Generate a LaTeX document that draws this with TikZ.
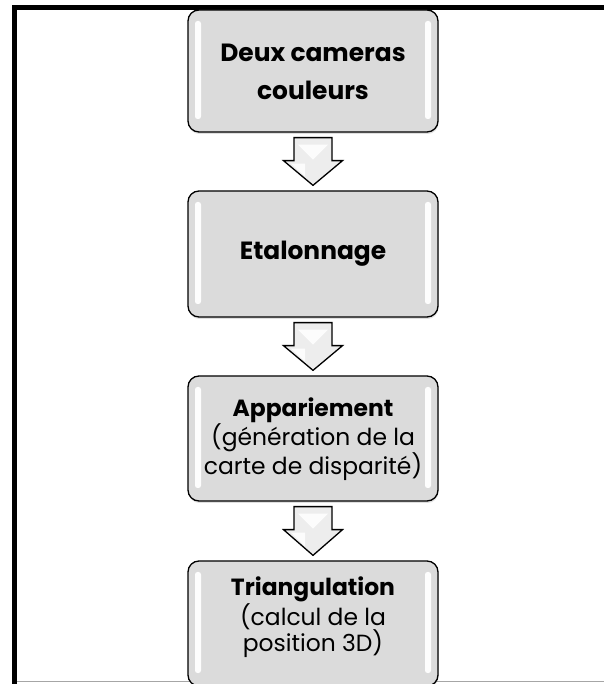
\documentclass[tikz,border=0pt]{standalone}
\usepackage{fontspec}
\setmainfont{Poppins}
\usetikzlibrary{calc,shadows}

\tikzset{
  x=1bp, y=1bp,
  stagebox/.style={
    draw=black, line width=1.3bp, rounded corners=11bp,
    fill=gray!28, minimum width=250bp, minimum height=#1,
    inner sep=0pt,
    drop shadow={shadow xshift=0.5bp, shadow yshift=-2bp, opacity=0.25},
    path picture={
      \fill[white, rounded corners=2.5bp, opacity=0.95]
        ($(path picture bounding box.north west)+(7bp,-11bp)$) rectangle
        ($(path picture bounding box.south west)+(13bp,13bp)$);
      \fill[white, rounded corners=2.5bp, opacity=0.95]
        ($(path picture bounding box.north east)+(-13bp,-11bp)$) rectangle
        ($(path picture bounding box.south east)+(-7bp,13bp)$);
    }
  },
  stagetext/.style={align=center, inner sep=0pt, text=black},
  flowarrow/.style={draw=black, line width=1.3bp, line join=miter, fill=gray!14},
  arrowgloss/.style={fill=white, opacity=0.85},
  frameline/.style={line width=5bp, line join=miter, black},
}

% Block arrow pointing down from the bottom of one box to the top of the next
\newcommand\blockarrow[2]{%
  \path let \p1=(#1.south), \p2=(#2.north) in
    [flowarrow] (\x1-19bp,\y1-5bp) -- (\x1+19bp,\y1-5bp) -- (\x1+19bp,\y1-28bp)
      -- (\x1+29.5bp,\y1-28bp) -- (\x1,\y2+5bp) -- (\x1-29.5bp,\y1-28bp)
      -- (\x1-19bp,\y1-28bp) -- cycle;
  \path let \p1=(#1.south), \p2=(#2.north) in
    [arrowgloss] (\x1-15bp,\y1-12bp) -- (\x1+15bp,\y1-12bp) -- (\x1,\y1-27bp) -- cycle
    (\x1-22bp,\y1-31bp) -- (\x1-8bp,\y1-31bp) -- (\x1-8bp,\y2+14bp) -- cycle;%
}

\begin{document}
\begin{tikzpicture}
\useasboundingbox (0,0) rectangle (604,684);
\fill[white] (0,0) rectangle (604,684);

% frame
\draw[frameline] (14.5,-5) -- (14.5,676.5) -- (610,676.5);
\draw[gray!70, line width=1bp] (17,2) -- (604,2);

% stages
\node[stagebox=122bp] (b1) at (313,613) {};
\node[stagebox=126bp] (b2) at (313,430) {};
\node[stagebox=125bp] (b3) at (313,245.5) {};
\node[stagebox=125bp] (b4) at (313,60.5) {};

\node[stagetext, font=\fontsize{25}{38}\selectfont\bfseries] (t1) at ($(b1.center)+(0,-1)$)
  {Deux cameras\\couleurs};
\node[stagetext, font=\fontsize{25}{29}\selectfont\bfseries] (t2) at (b2.center) {Etalonnage};
\node[stagetext, font=\fontsize{23.5}{28}\selectfont] (t3) at ($(b3.center)+(0,-1)$)
  {\textbf{Appariement}\\(génération de la\\carte de disparité)};
\node[stagetext, font=\fontsize{23.5}{27}\selectfont] (t4) at ($(b4.center)+(0,6)$)
  {\textbf{Triangulation}\\(calcul de la\\position 3D)};

% connectors
\blockarrow{b1}{b2}
\blockarrow{b2}{b3}
\blockarrow{b3}{b4}
\end{tikzpicture}
\end{document}
